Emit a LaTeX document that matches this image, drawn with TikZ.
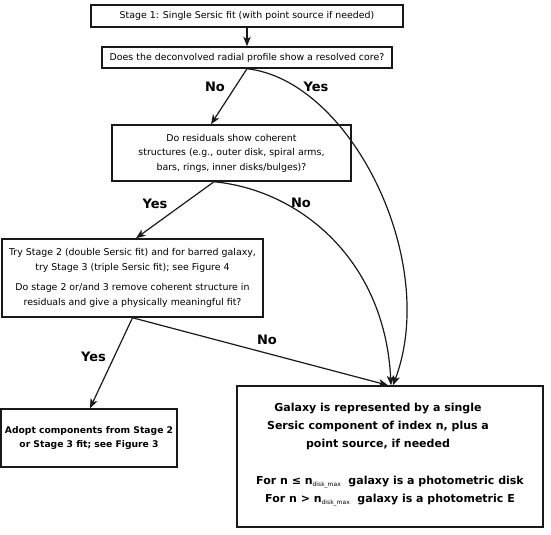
\documentclass[tikz,border=0pt]{standalone}
\usepackage{fontspec}
\setmainfont{DejaVu Sans}
\usetikzlibrary{arrows.meta}
\newcommand{\subdm}{\raisebox{-0.45ex}{\fontsize{6bp}{6bp}\mdseries\selectfont disk\_max}}
\begin{document}
\begin{tikzpicture}[x=1bp,y=-1bp,
  box/.style={draw=black!90,line width=1.5bp,inner sep=0pt,align=center,
    font=\fontsize{9.4bp}{14.5bp}\selectfont},
  plain/.style={inner sep=0pt,align=center},
  lbl/.style={inner sep=0pt,font=\fontsize{13bp}{15bp}\bfseries\selectfont},
  conn/.style={draw=black!90,line width=1.2bp},
  arr/.style={conn,-{Stealth[length=9.5bp,width=7.5bp,inset=2.5bp]}}]
\useasboundingbox (0,0) rectangle (551,535);

\node[box,minimum width=312bp,minimum height=22bp] (b1) at (247,16)
  {Stage 1: Single Sersic fit (with point source if needed)};
\node[box,minimum width=290bp,minimum height=21bp] (b2) at (247,57.5)
  {Does the deconvolved radial profile show a resolved core?};
\node[box,minimum width=239bp,minimum height=56bp] (b3) at (231.5,153)
  {Do residuals show coherent\\structures (e.g., outer disk, spiral arms,\\bars, rings, inner disks/bulges)?};
\node[box,minimum width=261bp,minimum height=78bp,font=\fontsize{9.4bp}{15bp}\selectfont] (b4) at (132.5,278)
  {Try Stage 2 (double Sersic fit) and for barred galaxy,\\try Stage 3 (triple Sersic fit); see Figure 4\\[5bp]Do stage 2 or/and 3 remove coherent structure in\\residuals and give a physically meaningful fit?};
\node[box,minimum width=176bp,minimum height=58bp,font=\fontsize{9.2bp}{14bp}\bfseries\selectfont] (b5) at (89,438)
  {Adopt components from Stage 2\\or Stage 3 fit; see Figure 3};
\node[box,minimum width=306bp,minimum height=141bp] (b6) at (390,456.5) {};
\node[plain,font=\fontsize{11bp}{18bp}\bfseries\selectfont] (t6a) at (378,426)
  {Galaxy is represented by a single\\Sersic component of index n, plus a\\point source, if needed};
\node[plain,font=\fontsize{11bp}{18bp}\bfseries\selectfont] (t6b) at (390,491)
  {For n ≤ n\subdm\ \ galaxy is a photometric disk\\For n > n\subdm\ \ galaxy is a photometric E};

\draw[arr] (b1.south) -- (b2.north);
\draw[arr] (b2.south) -- ([xshift=-20.5bp]b3.north);
\draw[arr] (b2.south) .. controls (350,80) and (440,260) .. ([xshift=3bp]b6.north);
\draw[arr] ([xshift=-17.5bp]b3.south) -- ([xshift=3.5bp]b4.north);
\draw[arr] ([xshift=-17.5bp]b3.south) .. controls (300,190) and (385,260) .. ([xshift=1bp]b6.north);
\draw[arr] (b4.south) -- ([xshift=1bp]b5.north);
\draw[arr] (b4.south) -- ([xshift=-2bp]b6.north);

\node[lbl] (lno1) at (215,87) {No};
\node[lbl] (lyes1) at (316,87) {Yes};
\node[lbl] (lyes2) at (155,204) {Yes};
\node[lbl] (lno2) at (301,203) {No};
\node[lbl] (lyes3) at (93.5,357) {Yes};
\node[lbl] (lno3) at (267,340) {No};
\end{tikzpicture}
\end{document}
